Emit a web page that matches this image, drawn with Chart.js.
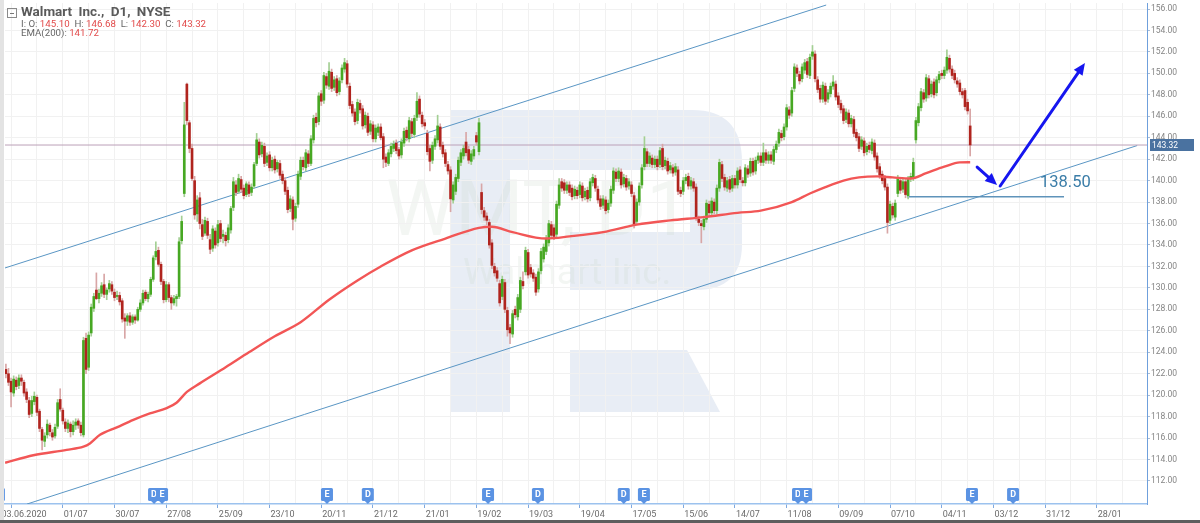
<!DOCTYPE html>
<html>
<head>
<meta charset="utf-8">
<title>Walmart Inc., D1, NYSE</title>
<script src="https://cdn.jsdelivr.net/npm/chart.js@4.4.1/dist/chart.umd.min.js"></script>
<style>
  html, body { margin: 0; padding: 0; background: #fff; }
  #wrap { position: relative; width: 1200px; height: 523px; overflow: hidden; background: #fff; }
  #chart { position: absolute; left: 0; top: 0; }
  #strip { position: absolute; left: 0; top: 0; width: 4px; height: 520px; background: #e3e3e3; }
  #frame { position: absolute; left: 0; top: 520px; width: 1200px; height: 3px; background: #5e5e5e; }
  #legend { position: absolute; left: 21px; top: 3px; font-family: Roboto, "Noto Sans", sans-serif; color: #5a5a5a; }
  #legend .title { font-size: 13.5px; font-weight: bold; line-height: 16px; word-spacing: 3px; }
  #legend .row { font-size: 9.7px; line-height: 9px; color: #666; }
  #legend .row b { font-weight: normal; color: #e24b4b; }
  #icon { position: absolute; left: 7px; top: 8px; width: 8px; height: 8px; border: 1px solid #8a8a8a; }
  #icon::after { content: ""; position: absolute; left: 2px; top: 4px; width: 4px; height: 1px; background: #777; }
</style>
</head>
<body>
<div id="wrap">
  <canvas id="chart" width="1200" height="520"></canvas>
  <div id="strip"></div>
  <div id="frame"></div>
  <div id="icon"></div>
  <div id="legend">
    <div class="title">Walmart Inc., D1, NYSE</div>
    <div class="row">I: O: <b id="lo"></b>&nbsp; H: <b id="lh"></b>&nbsp; L: <b id="ll"></b>&nbsp; C: <b id="lc"></b></div>
    <div class="row">EMA(200): <b id="le"></b></div>
  </div>
</div>
<script>
"use strict";

// ─── Data ─────────────────────────────────────────────────────
// x = trading-day index, 0 = 03.06.2020 (the first 7 candles are late May).
const firstDay = -7;

const opens = [
  122.4,122.0,121.3,120.2,121.4,120.9,121.6,121.2,120.3,119.5,
  118.3,119.4,119.8,118.5,116.8,115.7,116.3,117.2,116.5,116.2,
  117.1,119.6,118.6,117.5,116.9,117.3,116.6,117.2,117.6,117.2,
  116.3,125.3,122.6,125.8,128.1,129.8,129.0,129.5,130.3,129.4,
  129.9,130.3,129.6,129.2,129.3,128.8,127.2,126.9,127.4,126.8,
  127.3,127.0,128.0,128.6,129.6,129.0,129.4,130.8,132.9,133.5,
  132.2,130.6,128.9,130.3,129.1,128.6,129.0,129.2,134.4,138.8,
  149.0,145.4,143.0,140.0,136.9,138.4,135.9,135.1,136.2,134.5,
  133.7,135.3,134.2,136.0,134.8,134.9,134.5,135.4,137.5,139.6,
  139.0,140.1,139.3,138.7,139.6,138.9,139.5,141.6,143.6,142.5,
  143.2,141.7,142.4,141.2,142.0,141.1,141.6,140.6,140.0,139.1,
  137.4,138.2,136.5,137.8,140.4,141.9,141.2,142.5,141.6,143.8,
  145.9,145.5,148.1,147.5,149.7,148.8,150.1,148.7,149.5,148.3,
  149.4,150.4,150.9,148.8,147.1,146.4,145.6,147.2,146.7,145.2,
  146.0,144.6,145.2,143.9,144.5,145.0,144.1,142.2,141.6,142.5,
  143.0,143.5,142.9,142.4,143.5,144.7,143.9,145.5,144.3,145.9,
  147.6,146.1,145.4,144.4,143.0,141.9,143.2,143.8,145.0,143.3,
  142.6,141.5,141.0,138.2,139.0,140.2,141.7,142.3,143.6,142.9,
  141.8,142.3,144.2,142.7,138.9,137.2,136.7,136.1,134.2,132.0,
  131.6,130.4,129.2,130.5,127.9,126.3,125.7,128.0,127.3,128.0,
  130.6,131.5,133.3,131.9,131.4,131.0,129.9,131.6,132.7,133.4,
  134.2,135.9,135.6,135.0,137.7,139.9,139.8,139.1,139.6,139.3,
  138.6,139.1,138.7,139.5,138.5,139.1,138.4,139.8,140.2,139.2,
  138.3,137.7,138.2,137.3,137.9,139.1,140.8,140.2,140.8,139.7,
  140.2,139.5,139.6,138.6,136.2,138.0,139.6,141.3,142.7,141.6,
  142.1,141.5,142.0,141.5,143.0,141.4,141.8,141.0,141.2,140.8,
  141.0,139.1,139.0,140.0,140.4,139.5,139.9,139.4,136.4,136.0,
  135.7,136.4,137.8,137.0,138.0,137.2,139.3,141.5,140.3,139.3,
  140.1,139.3,140.2,139.6,141.0,140.0,139.8,141.1,140.7,141.8,
  140.9,141.9,142.3,141.7,142.6,141.9,142.4,141.8,142.9,143.5,
  144.4,144.1,145.0,146.6,146.3,148.6,150.5,149.9,149.5,150.3,
  151.1,149.8,151.6,151.8,149.4,148.6,147.6,148.8,147.6,148.1,
  148.8,149.0,147.9,147.2,146.7,145.7,146.3,145.3,145.7,144.5,
  144.1,143.2,143.7,142.7,143.3,142.8,143.5,142.3,141.3,140.6,
  140.2,139.4,136.3,137.6,136.6,138.8,140.0,139.2,139.9,138.6,
  140.2,140.3,143.8,145.4,146.8,148.2,147.7,149.5,148.1,149.2,
  148.2,149.4,150.0,149.8,150.3,151.4,150.4,150.0,149.3,149.1,
  148.3,148.4,147.3,145.10
];

const highs = [
  122.9,122.5,121.6,121.8,121.7,121.9,121.9,121.4,120.6,119.8,
  119.9,120.3,120.0,118.7,117.0,116.5,117.7,117.4,116.8,117.3,
  119.6,120.6,118.8,117.8,117.7,117.5,117.6,117.8,117.8,117.5,
  125.4,125.8,125.9,128.5,129.5,131.4,129.9,130.5,131.3,130.0,
  130.7,130.6,129.9,129.7,129.6,129.0,127.6,127.6,127.7,127.5,
  127.5,128.2,128.9,129.8,129.8,129.6,131.0,133.0,134.3,133.8,
  132.4,130.8,130.6,130.5,129.3,129.3,129.4,134.7,136.7,147.3,
  149.1,145.6,143.4,140.4,138.6,138.9,136.4,136.6,136.5,135.0,
  135.8,135.6,136.3,136.3,135.4,135.2,135.9,137.6,140.3,140.0,
  140.6,140.4,139.6,139.9,139.9,139.7,141.7,144.4,143.9,143.6,
  143.5,142.6,142.7,142.2,142.3,141.9,141.9,140.9,140.3,139.4,
  138.6,138.5,137.9,140.9,142.2,142.2,142.9,142.8,144.2,146.1,
  146.3,148.2,148.4,150.1,150.0,151.0,150.4,149.7,149.8,149.6,
  150.8,151.4,151.2,149.1,147.4,146.7,147.6,147.5,147.0,146.4,
  146.3,145.6,145.5,145.2,145.3,145.3,144.4,142.5,142.9,143.5,
  143.7,143.8,143.1,143.9,144.9,145.0,145.9,145.8,146.1,148.2,
  147.9,146.4,145.7,144.7,143.3,143.6,144.2,146.1,145.3,143.6,
  142.9,141.8,141.3,139.9,140.6,142.2,142.9,143.3,144.5,143.2,
  142.8,143.2,144.5,145.8,139.7,137.5,137.0,136.4,134.5,132.3,
  131.9,130.7,131.1,130.8,128.2,126.6,127.9,128.3,129.4,131.0,
  131.5,133.8,133.6,132.2,131.7,131.3,131.8,133.7,134.1,134.9,
  136.3,136.2,135.9,138.1,140.2,140.2,140.1,139.9,139.9,139.6,
  139.5,139.4,139.9,139.8,139.3,139.4,140.2,140.6,140.5,139.5,
  138.6,138.6,138.5,138.2,139.5,141.2,141.1,141.2,141.1,140.6,
  140.5,140.2,139.9,138.9,138.3,139.8,141.5,144.1,143.0,142.6,
  142.4,142.3,142.3,143.1,143.4,142.2,142.1,141.7,141.5,141.6,
  141.3,139.4,140.3,140.6,140.7,140.3,140.2,139.7,136.7,136.3,
  136.7,138.2,138.1,138.4,138.3,139.6,142.0,141.8,140.6,140.3,
  140.4,140.5,140.5,141.2,141.3,140.3,141.5,141.4,142.1,142.1,
  142.2,142.6,142.6,143.5,142.9,142.7,142.7,143.2,143.7,144.8,
  144.7,145.3,147.1,146.9,148.7,150.9,150.8,150.2,150.9,151.3,
  151.4,151.8,152.6,152.1,149.7,148.9,149.2,149.1,148.5,149.1,
  149.8,149.3,148.2,147.5,147.0,146.7,146.6,146.1,146.0,144.8,
  144.4,144.1,144.0,143.5,143.6,143.9,143.8,142.6,141.6,140.9,
  140.5,139.7,138.1,137.9,138.2,140.5,140.3,140.2,140.2,140.4,
  140.7,142.1,145.9,147.2,148.6,148.5,149.9,149.8,149.3,149.5,
  149.7,150.2,150.3,150.6,152.2,151.7,150.7,150.3,149.6,149.4,
  148.6,148.6,147.6,146.68
];

const lows = [
  121.6,120.9,118.9,119.9,120.5,120.6,120.9,119.9,119.3,117.9,
  118.0,119.1,118.1,116.6,114.9,115.2,116.0,116.2,115.8,116.0,
  116.9,118.5,117.3,116.6,116.5,116.1,116.3,116.8,116.9,116.2,
  116.1,122.0,122.3,125.5,127.8,128.9,128.6,129.2,129.1,128.9,
  129.6,129.4,128.8,128.9,128.4,126.8,125.3,126.5,126.5,126.6,
  126.7,126.9,127.8,128.4,128.8,128.7,129.2,130.6,132.6,132.0,
  130.3,128.6,128.7,128.7,128.0,128.4,128.3,129.0,134.1,138.5,
  145.2,142.6,140.0,136.4,136.2,135.5,134.5,134.9,134.6,133.2,
  133.4,133.7,133.9,134.3,134.2,133.9,134.2,135.1,137.2,138.6,
  138.8,138.9,138.3,138.5,138.5,138.6,139.3,141.4,142.1,142.2,
  141.3,141.4,140.9,140.9,140.7,140.8,140.2,139.7,138.7,137.0,
  137.1,135.4,136.2,137.5,140.1,141.0,140.9,141.3,141.4,143.5,
  145.0,145.2,147.0,147.2,148.6,148.5,148.3,148.4,147.9,148.0,
  149.1,150.1,148.7,146.7,146.0,145.2,145.3,146.3,144.8,144.9,
  144.2,144.3,143.6,143.6,144.2,143.8,141.2,141.3,141.4,142.2,
  142.7,142.5,142.0,142.1,143.2,143.7,143.6,144.1,144.0,145.6,
  145.9,145.0,144.8,142.4,140.9,141.6,142.9,143.5,142.9,142.2,
  141.3,140.6,137.1,137.9,138.7,139.9,141.4,142.0,142.3,141.6,
  141.5,142.0,143.3,142.4,136.9,136.3,135.9,133.7,131.8,131.1,
  130.6,128.3,128.9,127.7,125.5,124.8,125.4,127.2,127.0,127.7,
  129.9,131.2,130.9,131.0,130.6,129.3,129.6,131.3,132.4,133.1,
  133.9,134.6,134.5,134.7,137.4,139.0,138.8,138.8,138.6,138.2,
  138.3,138.3,138.4,138.1,138.2,138.0,138.1,139.5,139.0,137.9,
  137.3,137.4,136.9,137.0,137.6,138.8,139.9,139.9,139.3,139.4,
  139.1,139.2,138.5,135.6,135.9,137.7,139.3,141.0,141.3,141.3,
  141.2,141.2,141.0,141.2,141.0,141.1,140.6,140.7,140.4,140.5,
  138.7,138.5,138.7,139.7,139.2,139.2,139.0,136.3,135.8,134.2,
  135.4,136.1,136.7,136.7,136.9,136.9,139.0,139.9,139.1,139.0,
  138.9,139.0,139.3,139.3,139.8,139.5,139.5,140.3,140.4,140.5,
  140.6,141.6,141.4,141.4,141.6,141.6,141.6,141.5,142.6,143.2,
  143.7,143.8,144.7,145.8,146.0,148.3,149.7,149.0,149.2,150.0,
  149.6,149.5,151.3,149.2,148.2,147.3,147.3,147.1,147.3,147.8,
  148.5,147.5,146.8,146.3,145.3,145.4,145.0,145.0,144.1,143.7,
  142.7,142.9,142.3,142.4,142.6,142.5,141.9,140.8,140.2,139.7,
  139.1,135.1,136.0,136.5,136.3,138.5,138.8,138.9,138.4,138.3,
  139.9,140.0,143.5,145.1,146.5,147.3,147.4,147.7,147.8,147.7,
  147.9,149.1,149.5,149.5,150.0,150.1,149.5,149.1,148.7,148.0,
  147.7,146.6,146.2,142.30
];

const closes = [
  122.0,121.2,120.3,121.5,120.8,121.6,121.3,120.2,119.6,118.2,
  119.5,119.9,118.4,116.9,115.8,116.2,117.3,116.6,116.1,117.0,
  119.3,118.7,117.6,116.9,117.4,116.6,117.2,117.5,117.2,116.5,
  125.1,122.4,125.6,128.2,129.2,129.0,129.5,130.2,129.4,129.8,
  130.4,129.7,129.1,129.3,128.7,127.1,126.9,127.4,126.8,127.3,
  127.0,128.0,128.6,129.5,129.0,129.4,130.8,132.8,133.4,132.2,
  130.6,128.9,130.3,129.1,128.6,129.0,129.2,134.3,136.2,145.2,
  145.6,143.0,140.2,136.8,138.2,136.0,134.8,136.3,134.9,133.6,
  135.5,134.0,135.9,134.6,135.0,134.4,135.6,137.4,139.9,138.9,
  140.2,139.2,138.6,139.7,138.8,139.4,141.5,143.8,142.4,143.3,
  141.6,142.3,141.2,141.9,141.0,141.7,140.5,140.0,139.0,137.3,
  138.3,136.4,137.6,140.6,141.9,141.3,142.6,141.6,143.9,145.8,
  145.4,147.9,147.4,149.8,148.9,150.2,148.6,149.4,148.2,149.3,
  150.5,151.0,149.0,147.0,146.3,145.5,147.3,146.6,145.1,146.1,
  144.5,145.3,143.9,144.9,145.0,144.0,142.0,141.7,142.6,143.2,
  143.4,142.8,142.3,143.6,144.6,144.0,145.6,144.4,145.8,147.4,
  146.2,145.3,145.1,142.7,141.8,143.3,143.9,145.1,143.2,142.5,
  141.6,140.9,138.3,139.6,140.3,141.9,142.6,143.0,142.6,141.9,
  142.5,142.9,143.6,145.4,137.3,136.6,136.3,134.0,132.1,131.4,
  130.9,128.6,130.8,128.0,126.1,125.8,127.6,127.5,129.1,130.7,
  130.2,133.5,131.2,131.3,130.9,129.6,131.5,133.4,133.8,134.6,
  136.0,134.9,134.8,137.8,139.6,139.3,139.1,139.6,138.9,138.5,
  139.2,138.6,139.6,138.4,139.0,138.3,139.9,140.3,139.3,138.2,
  137.6,138.3,137.2,137.9,139.2,140.9,140.2,140.9,139.6,140.3,
  139.4,139.9,138.8,135.9,138.0,139.5,141.2,143.0,141.6,142.3,
  141.5,142.0,141.3,142.8,141.3,141.9,140.9,141.4,140.7,141.3,
  139.0,138.8,140.0,140.3,139.5,140.0,139.3,136.6,136.1,135.8,
  136.4,137.9,137.0,138.1,137.2,139.3,141.7,140.2,139.4,140.0,
  139.2,140.2,139.6,140.9,140.1,139.8,141.2,140.6,141.8,140.8,
  141.9,142.3,141.7,142.6,141.9,142.4,141.9,142.9,143.4,144.5,
  144.0,145.0,146.8,146.1,148.4,150.6,150.0,149.3,150.6,151.0,
  149.9,151.5,152.0,149.5,148.5,147.6,148.9,147.4,148.2,148.8,
  149.2,147.8,147.1,146.6,145.6,146.4,145.3,145.8,144.4,144.0,
  143.0,143.8,142.6,143.2,142.9,143.6,142.2,141.1,140.5,140.0,
  139.4,136.1,137.8,136.8,137.9,140.2,139.1,139.9,138.7,140.1,
  140.4,141.7,145.6,146.9,148.3,147.6,149.6,148.0,149.0,148.0,
  149.4,149.9,149.8,150.3,151.5,150.4,149.8,149.4,149.0,148.3,
  148.0,146.9,146.5,143.32
];

// Date labels, one every 20 trading days starting at index 0
const tickLabels = [
  "03.06.2020", "01/07", "30/07", "27/08", "25/09", "23/10", "20/11", "21/12",
  "21/01", "19/02", "19/03", "19/04", "17/05", "15/06", "14/07", "11/08",
  "09/09", "07/10", "04/11", "03/12", "31/12", "28/01",
];

// EMA(200)
const emaDays = [
  -7.3, 3.6, 16.5, 23, 25.5, 29.4, 35.9, 42.3, 48.7, 55.2, 59, 63, 68, 78, 87,
  97, 107, 118, 129, 138, 150, 163, 176, 181, 189, 202, 211, 224, 237, 250,
  263, 276, 285, 297, 304, 310, 317, 323, 330, 336, 343, 349, 356, 362, 366,
];
const emaValues = [
  113.7, 114.4, 114.9, 115.2, 115.5, 116.3, 117.0, 117.7, 118.3, 118.8, 119.3, 120.3, 121.1, 122.6, 124.0,
  125.5, 126.8, 128.9, 130.7, 132.0, 133.5, 134.6, 135.6, 135.7, 135.2, 134.6, 134.8, 135.2, 135.9, 136.3,
  136.6, 137.0, 137.2, 138.0, 138.8, 139.4, 140.0, 140.3, 140.4, 140.3, 140.2, 140.7, 141.3, 141.7, 141.72,
];

// Rising channel
const upperDays = [-7.35, 310.3];
const upperPrices = [131.86, 156.37];
const lowerDays = [1.16, 430.6];
const lowerPrices = [109.85, 143.27];

// Support target and forecast arrows
const supportDays = [341.6, 402.3];
const supportPrice = 138.5;
const supportLabelAt = [393, 139.8];
const arrowDays = [[368.7, 376.4], [377.6, 410.4]];
const arrowPrices = [[141.27, 139.6], [139.5, 150.97]];

// Dividend / earnings flags on the time axis
const flagKinds = ["E", "D", "E", "E", "D", "E", "D", "D", "E", "D", "E", "E", "D"];
const flagDays = [-9.7, 50.3, 53.4, 117.2, 133, 179.5, 198.8, 232, 239.8, 299.4, 302.5, 366.7, 382.6];

const xMin = -7.35, xMax = 434.4;
const yMin = 109.855, yMax = 156.56;

// ─── Legend ───────────────────────────────────────────────────
const last = closes.length - 1;
document.getElementById("lo").textContent = opens[last].toFixed(2);
document.getElementById("lh").textContent = highs[last].toFixed(2);
document.getElementById("ll").textContent = lows[last].toFixed(2);
document.getElementById("lc").textContent = closes[last].toFixed(2);
document.getElementById("le").textContent = emaValues[emaValues.length - 1].toFixed(2);

// ─── Build datasets ───────────────────────────────────────────
const days = closes.map((_, k) => firstDay + k);
const isUp = (k) => closes[k] >= opens[k];
const wickData = days.map((d, k) => ({ x: d, y: [lows[k], highs[k]] }));
const bodyData = days.map((d, k) => ({ x: d, y: [opens[k], closes[k]] }));
const emaData = emaDays.map((d, k) => ({ x: d, y: emaValues[k] }));
const pair = (xs, ys) => xs.map((x, k) => ({ x, y: ys[k] }));

const lineDs = (data, color, width, order) => ({
  type: "line", data, borderColor: color, borderWidth: width,
  pointRadius: 0, fill: false, order,
});

function drawArrow(c, x1, y1, x2, y2, head) {
  const a = Math.atan2(y2 - y1, x2 - x1);
  c.beginPath();
  c.moveTo(x1, y1);
  c.lineTo(x2 - head * 0.7 * Math.cos(a), y2 - head * 0.7 * Math.sin(a));
  c.stroke();
  c.beginPath();
  c.moveTo(x2, y2);
  c.lineTo(x2 - head * Math.cos(a - 0.42), y2 - head * Math.sin(a - 0.42));
  c.lineTo(x2 - head * Math.cos(a + 0.42), y2 - head * Math.sin(a + 0.42));
  c.closePath();
  c.fill();
}

// Background watermark, annotations, price tag and axis flags
const decor = {
  id: "decor",
  beforeDraw(chart) {
    const c = chart.ctx;
    c.save();
    c.fillStyle = "#fff";
    c.fillRect(0, 0, chart.width, chart.height);
    c.fillStyle = "#e8edf5";
    c.beginPath();
    c.moveTo(450, 110);
    c.lineTo(692, 110);
    c.quadraticCurveTo(742, 110, 742, 162);
    c.lineTo(742, 244);
    c.quadraticCurveTo(742, 290, 696, 290);
    c.lineTo(570, 290);
    c.lineTo(570, 412);
    c.lineTo(450, 412);
    c.closePath();
    c.fill();
    c.beginPath();
    c.moveTo(570, 350);
    c.lineTo(687, 350);
    c.lineTo(720, 412);
    c.lineTo(570, 412);
    c.closePath();
    c.fill();
    c.fillStyle = "#fff";
    c.fillRect(510, 170, 180, 62);
    c.fillRect(510, 232, 60, 180);
    c.fillStyle = "rgba(200,215,200,0.22)";
    c.font = "78px Roboto";
    c.fillText("WMT, D1", 386, 235);
    c.font = "37px Roboto";
    c.fillText("Walmart Inc.", 463, 284);
    c.restore();
  },
  afterDraw(chart) {
    const c = chart.ctx;
    const xs = chart.scales.x, ys = chart.scales.y;
    const area = chart.chartArea;
    c.save();

    // forecast arrows
    c.strokeStyle = "#1616ef";
    c.fillStyle = "#1616ef";
    c.lineWidth = 3;
    c.lineCap = "round";
    arrowDays.forEach((ad, k) => {
      const ap = arrowPrices[k];
      drawArrow(c,
        xs.getPixelForValue(ad[0]), ys.getPixelForValue(ap[0]),
        xs.getPixelForValue(ad[1]), ys.getPixelForValue(ap[1]), 13);
    });

    // support label
    c.fillStyle = "#3b7da8";
    c.font = "16.5px Roboto";
    c.textAlign = "left";
    c.textBaseline = "middle";
    c.fillText(supportPrice.toFixed(2),
      xs.getPixelForValue(supportLabelAt[0]), ys.getPixelForValue(supportLabelAt[1]));

    // last price tag on the axis
    const py = Math.round(ys.getPixelForValue(closes[last]));
    c.fillStyle = "#4a72a0";
    c.fillRect(area.right + 3, py - 6, 44, 12);
    c.fillStyle = "#fff";
    c.font = "8.5px Roboto";
    c.fillText(closes[last].toFixed(2), area.right + 5, py + 0.5);

    // flags
    c.font = "bold 9px Roboto";
    c.textAlign = "center";
    flagDays.forEach((d, k) => {
      const cx = xs.getPixelForValue(d);
      const top = area.bottom - 16;
      c.fillStyle = "#5b93e3";
      c.beginPath();
      c.roundRect(cx - 6, top, 12, 13, 1.5);
      c.fill();
      c.beginPath();
      c.moveTo(cx - 3, top + 13);
      c.lineTo(cx, top + 16);
      c.lineTo(cx + 3, top + 13);
      c.closePath();
      c.fill();
      c.fillStyle = "#fff";
      c.fillText(flagKinds[k], cx, top + 7);
    });
    c.restore();
  },
};

new Chart(document.getElementById("chart"), {
  type: "bar",
  data: {
    datasets: [
      lineDs(pair(upperDays, upperPrices), "#5a96c4", 1, 6),
      lineDs(pair(lowerDays, lowerPrices), "#5a96c4", 1, 6),
      lineDs(pair([xMin, xMax], [closes[last], closes[last]]), "#bba0b8", 1, 5),
      lineDs(pair(supportDays, [supportPrice, supportPrice]), "#5f93ba", 1.3, 5),
      {
        type: "bar", data: wickData, order: 4, grouped: false, barThickness: 1,
        backgroundColor: (ctx) => (isUp(ctx.dataIndex) ? "#a3cf93" : "#d8a6a6"),
        borderWidth: 0,
      },
      {
        type: "bar", data: bodyData, order: 3, grouped: false, barThickness: 2, minBarLength: 1,
        backgroundColor: (ctx) => (isUp(ctx.dataIndex) ? "#47a823" : "#b0241e"),
        borderWidth: 0,
      },
      {
        type: "line", data: emaData, order: 1, borderColor: "#f25656", borderWidth: 2.4,
        pointRadius: 0, cubicInterpolationMode: "monotone", fill: false,
      },
    ],
  },
  options: {
    responsive: false,
    animation: false,
    devicePixelRatio: 1,
    layout: { padding: { left: 5, top: 3, right: 0, bottom: 0 } },
    plugins: { legend: { display: false }, tooltip: { enabled: false } },
    scales: {
      x: {
        type: "linear",
        min: xMin,
        max: xMax,
        offset: false,
        afterBuildTicks: (axis) => {
          const t = [];
          for (let v = 0; v <= 430; v += 10) t.push({ value: v });
          axis.ticks = t;
        },
        afterFit: (axis) => {
          axis.height = 16;
          axis.paddingLeft = 0;
          axis.paddingRight = 0;
        },
        ticks: {
          autoSkip: false,
          maxRotation: 0,
          padding: 1,
          color: "#6b6b6b",
          font: { family: "Roboto", size: 9 },
          callback: (v) => (v % 20 === 0 ? tickLabels[v / 20] : ""),
        },
        grid: {
          color: "#f1f1f1",
          tickLength: 4,
          tickColor: (ctx) => (ctx.tick && ctx.tick.value % 20 === 0 ? "#7fa9e0" : "rgba(0,0,0,0)"),
        },
        border: { color: "#9cc2ee", width: 1.5 },
      },
      y: {
        type: "linear",
        position: "right",
        min: yMin,
        max: yMax,
        afterBuildTicks: (axis) => {
          const t = [];
          for (let v = 112; v <= 156; v += 2) t.push({ value: v });
          axis.ticks = t;
        },
        afterFit: (axis) => {
          axis.width = 53;
          axis.paddingTop = 0;
          axis.paddingBottom = 0;
        },
        ticks: {
          padding: 1,
          color: "#858585",
          font: { family: "Roboto", size: 8.5 },
          callback: (v) => Number(v).toFixed(2),
        },
        grid: { color: "#f1f1f1", tickLength: 3, tickColor: "#a9bcd6" },
        border: { color: "#6fa0dc", width: 1 },
      },
    },
  },
  plugins: [decor],
});
</script>
</body>
</html>
